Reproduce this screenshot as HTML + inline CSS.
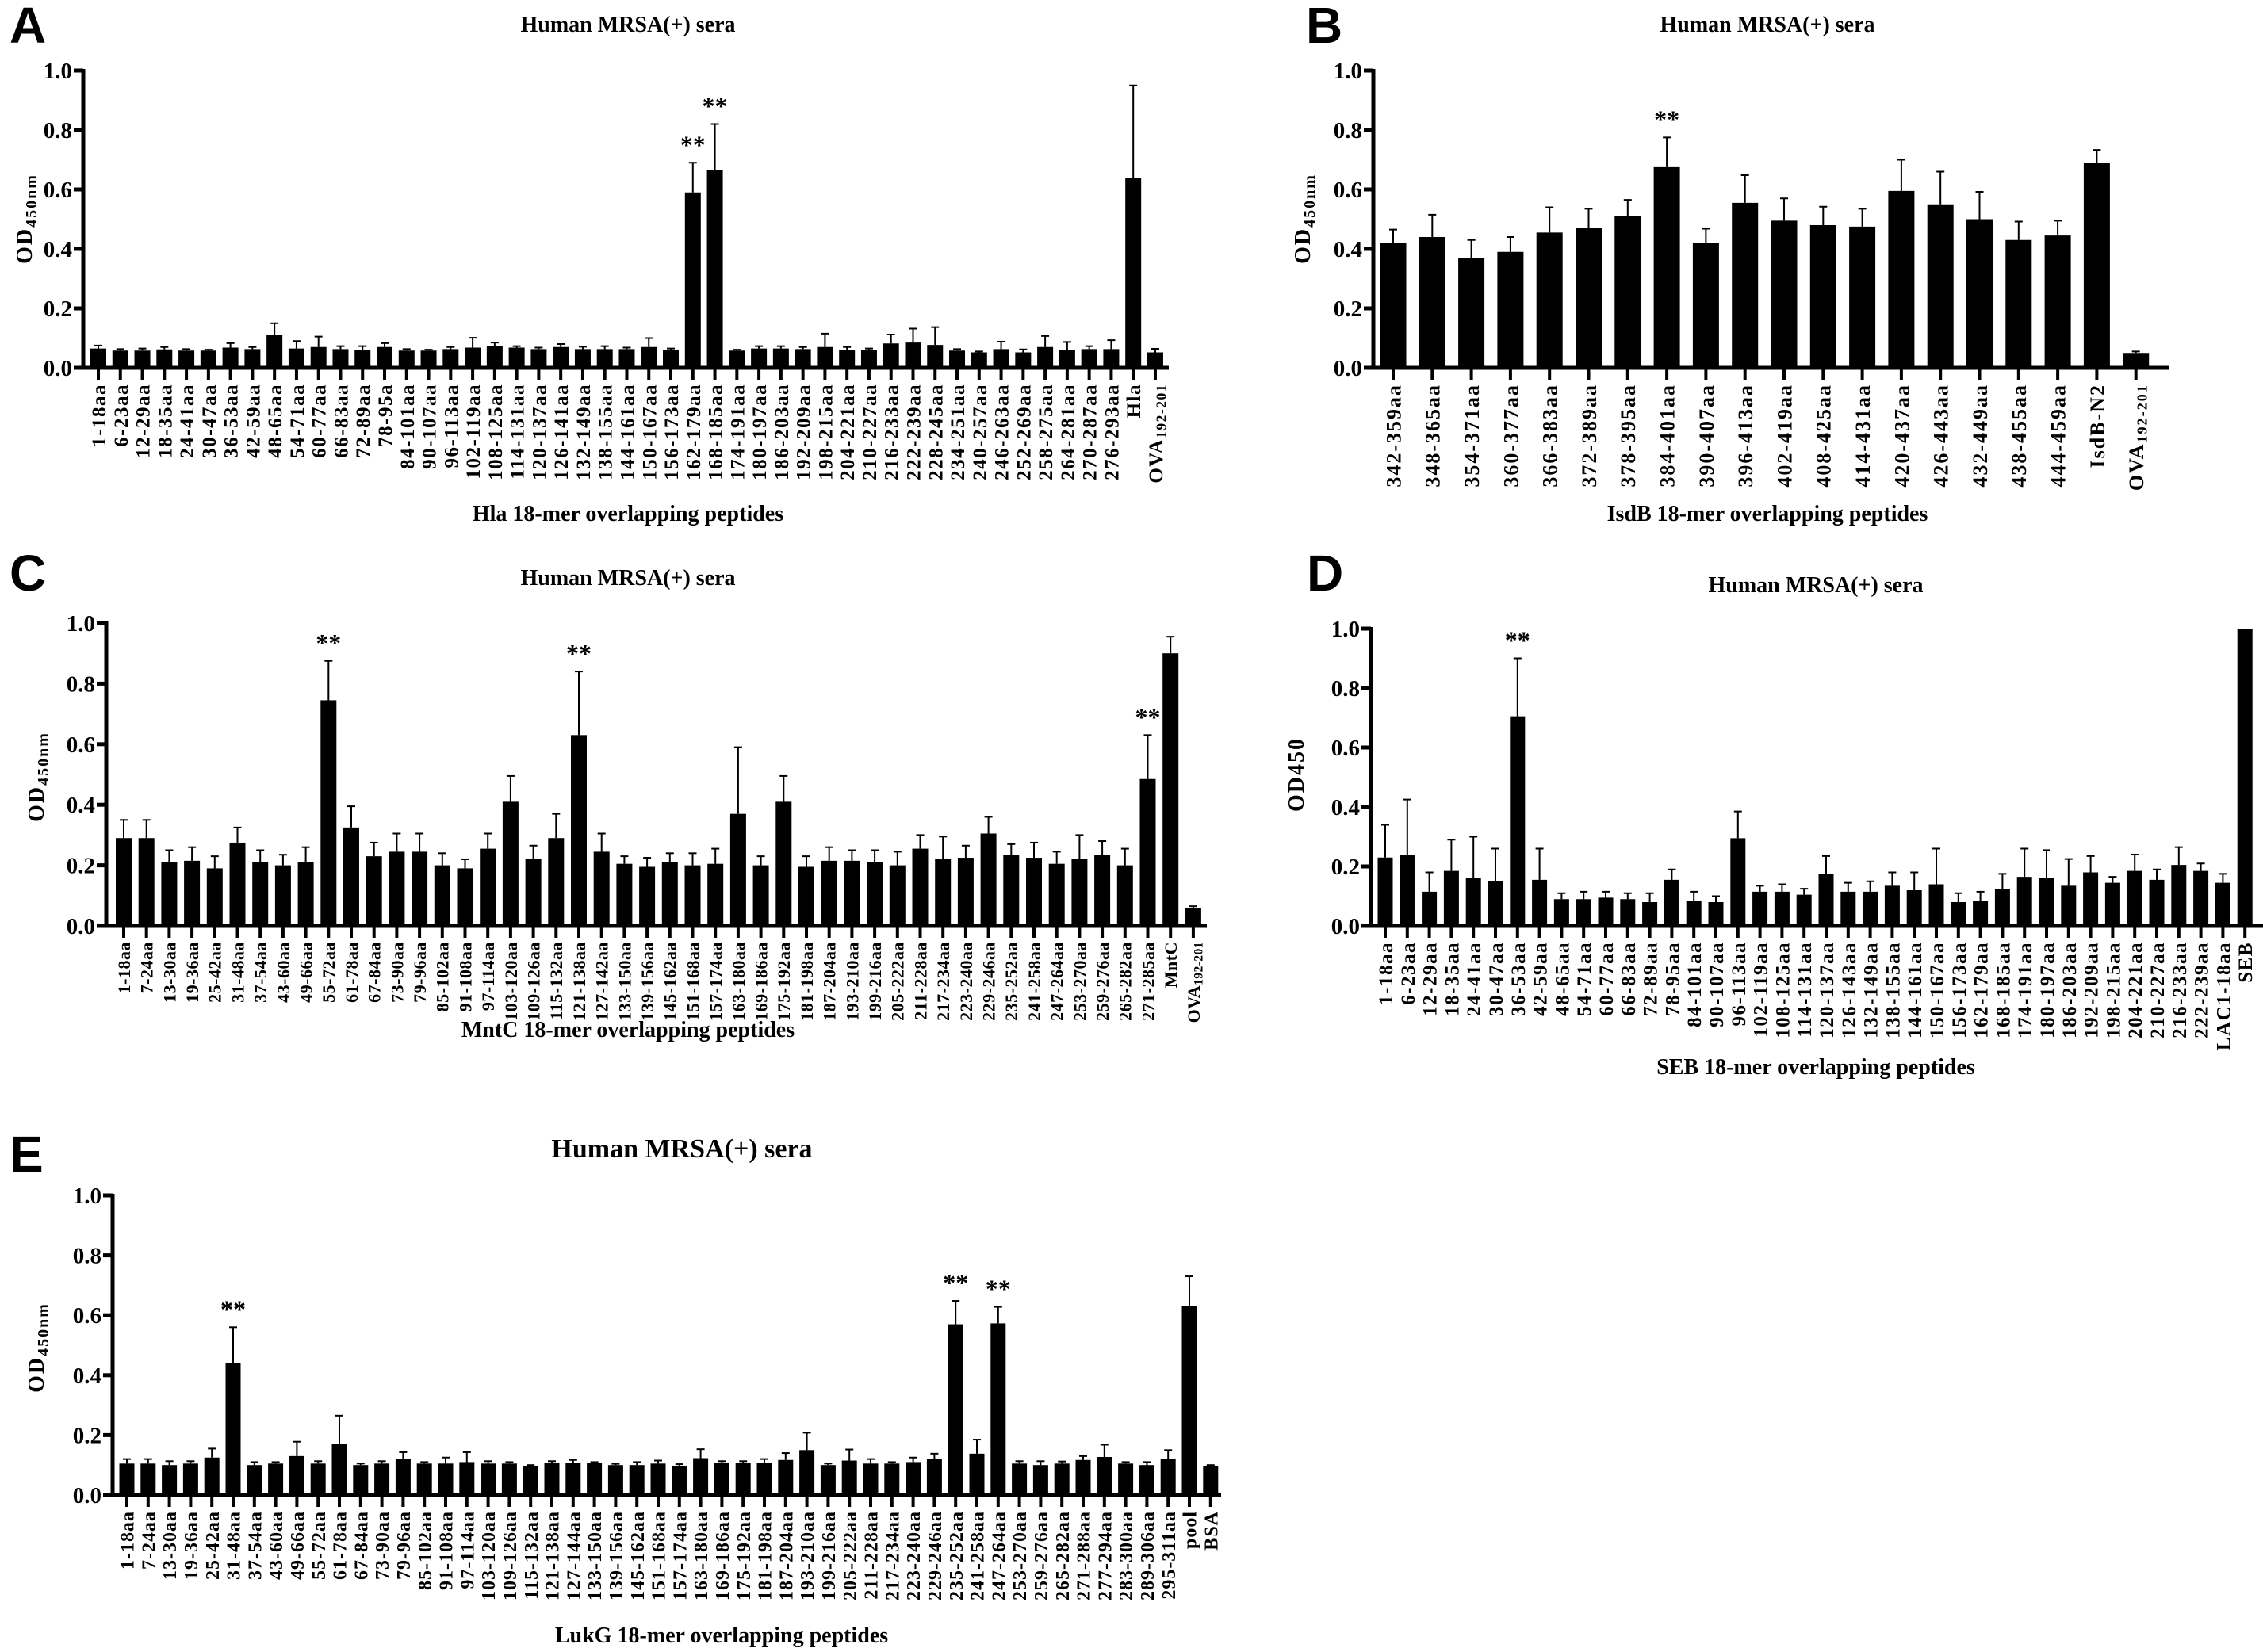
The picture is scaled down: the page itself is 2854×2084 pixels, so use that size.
<!DOCTYPE html>
<html><head><meta charset="utf-8">
<style>
html,body{margin:0;padding:0;background:#fff;}
svg{display:block;}
text{font-family:"Liberation Serif",serif;font-weight:bold;fill:#000;}
.let{font-family:"Liberation Sans",sans-serif;font-size:64px;}
</style></head>
<body>
<svg id="fig" width="2854" height="2084" viewBox="0 0 2854 2084" xmlns="http://www.w3.org/2000/svg">
</svg>
<script>
const catsA = ["1-18aa","6-23aa","12-29aa","18-35aa","24-41aa","30-47aa","36-53aa","42-59aa","48-65aa","54-71aa","60-77aa","66-83aa","72-89aa","78-95a","84-101aa","90-107aa","96-113aa","102-119aa","108-125aa","114-131aa","120-137aa","126-141aa","132-149aa","138-155aa","144-161aa","150-167aa","156-173aa","162-179aa","168-185aa","174-191aa","180-197aa","186-203aa","192-209aa","198-215aa","204-221aa","210-227aa","216-233aa","222-239aa","228-245aa","234-251aa","240-257aa","246-263aa","252-269aa","258-275aa","264-281aa","270-287aa","276-293aa","Hla","OVA"];
const valsA = [0.065,0.058,0.058,0.062,0.058,0.058,0.068,0.063,0.11,0.065,0.07,0.063,0.06,0.07,0.058,0.058,0.063,0.068,0.073,0.068,0.063,0.07,0.063,0.063,0.063,0.07,0.06,0.59,0.665,0.058,0.065,0.065,0.063,0.07,0.06,0.06,0.082,0.085,0.077,0.058,0.052,0.063,0.052,0.07,0.06,0.063,0.063,0.64,0.052];
const errsA = [0.01,0.005,0.007,0.008,0.005,0.003,0.015,0.007,0.04,0.025,0.035,0.01,0.013,0.013,0.005,0.003,0.007,0.033,0.012,0.005,0.005,0.01,0.008,0.01,0.005,0.03,0.005,0.1,0.155,0.003,0.008,0.008,0.007,0.045,0.01,0.005,0.03,0.047,0.06,0.005,0.003,0.025,0.01,0.037,0.027,0.01,0.03,0.31,0.012];
const starsA = [27,28];

const catsB = ["342-359aa","348-365aa","354-371aa","360-377aa","366-383aa","372-389aa","378-395aa","384-401aa","390-407aa","396-413aa","402-419aa","408-425aa","414-431aa","420-437aa","426-443aa","432-449aa","438-455aa","444-459aa","IsdB-N2","OVA"];
const valsB = [0.42,0.44,0.37,0.39,0.455,0.47,0.51,0.675,0.42,0.555,0.495,0.48,0.475,0.595,0.55,0.5,0.43,0.445,0.688,0.05];
const errsB = [0.045,0.075,0.06,0.05,0.085,0.065,0.055,0.1,0.048,0.093,0.075,0.062,0.06,0.105,0.11,0.092,0.062,0.05,0.045,0.005];
const starsB = [7];

const catsC = ["1-18aa","7-24aa","13-30aa","19-36aa","25-42aa","31-48aa","37-54aa","43-60aa","49-66aa","55-72aa","61-78aa","67-84aa","73-90aa","79-96aa","85-102aa","91-108aa","97-114aa","103-120aa","109-126aa","115-132aa","121-138aa","127-142aa","133-150aa","139-156aa","145-162aa","151-168aa","157-174aa","163-180aa","169-186aa","175-192aa","181-198aa","187-204aa","193-210aa","199-216aa","205-222aa","211-228aa","217-234aa","223-240aa","229-246aa","235-252aa","241-258aa","247-264aa","253-270aa","259-276aa","265-282aa","271-285aa","MntC","OVA"];
const valsC = [0.29,0.29,0.21,0.215,0.19,0.275,0.21,0.2,0.21,0.745,0.325,0.23,0.245,0.245,0.2,0.19,0.255,0.41,0.22,0.29,0.63,0.245,0.205,0.195,0.21,0.2,0.205,0.37,0.2,0.41,0.195,0.215,0.215,0.21,0.2,0.255,0.22,0.225,0.305,0.235,0.225,0.205,0.22,0.235,0.2,0.485,0.9,0.06];
const topsC = [0.35,0.35,0.25,0.26,0.23,0.325,0.25,0.235,0.26,0.875,0.395,0.275,0.305,0.305,0.24,0.22,0.305,0.495,0.265,0.37,0.84,0.305,0.23,0.225,0.24,0.24,0.255,0.59,0.23,0.495,0.23,0.26,0.25,0.25,0.245,0.3,0.295,0.265,0.36,0.27,0.275,0.245,0.3,0.28,0.255,0.63,0.955,0.065];
const starsC = [9,20,45];

const catsD = ["1-18aa","6-23aa","12-29aa","18-35aa","24-41aa","30-47aa","36-53aa","42-59aa","48-65aa","54-71aa","60-77aa","66-83aa","72-89aa","78-95aa","84-101aa","90-107aa","96-113aa","102-119aa","108-125aa","114-131aa","120-137aa","126-143aa","132-149aa","138-155aa","144-161aa","150-167aa","156-173aa","162-179aa","168-185aa","174-191aa","180-197aa","186-203aa","192-209aa","198-215aa","204-221aa","210-227aa","216-233aa","222-239aa","LAC1-18aa","SEB"];
const valsD = [0.23,0.24,0.115,0.185,0.16,0.15,0.705,0.155,0.09,0.09,0.095,0.09,0.08,0.155,0.085,0.08,0.295,0.115,0.115,0.105,0.175,0.115,0.115,0.135,0.12,0.14,0.08,0.085,0.125,0.165,0.16,0.135,0.18,0.145,0.185,0.155,0.205,0.185,0.145,1.0];
const topsD = [0.34,0.425,0.18,0.29,0.3,0.26,0.9,0.26,0.11,0.115,0.115,0.11,0.11,0.19,0.115,0.1,0.385,0.135,0.14,0.125,0.235,0.145,0.15,0.18,0.18,0.26,0.11,0.115,0.175,0.26,0.255,0.225,0.235,0.165,0.24,0.19,0.265,0.21,0.175,1.0];
const starsD = [6];

const catsE = ["1-18aa","7-24aa","13-30aa","19-36aa","25-42aa","31-48aa","37-54aa","43-60aa","49-66aa","55-72aa","61-78aa","67-84aa","73-90aa","79-96aa","85-102aa","91-108aa","97-114aa","103-120aa","109-126aa","115-132aa","121-138aa","127-144aa","133-150aa","139-156aa","145-162aa","151-168aa","157-174aa","163-180aa","169-186aa","175-192aa","181-198aa","187-204aa","193-210aa","199-216aa","205-222aa","211-228aa","217-234aa","223-240aa","229-246aa","235-252aa","241-258aa","247-264aa","253-270aa","259-276aa","265-282aa","271-288aa","277-294aa","283-300aa","289-306aa","295-311aa","pool","BSA"];
const valsE = [0.105,0.105,0.1,0.105,0.125,0.44,0.1,0.105,0.13,0.105,0.17,0.1,0.105,0.12,0.105,0.105,0.11,0.105,0.105,0.098,0.108,0.108,0.107,0.1,0.1,0.105,0.098,0.123,0.107,0.108,0.108,0.117,0.15,0.1,0.115,0.105,0.105,0.11,0.12,0.57,0.138,0.573,0.105,0.1,0.105,0.117,0.127,0.105,0.1,0.12,0.63,0.098];
const topsE = [0.12,0.12,0.113,0.113,0.155,0.56,0.11,0.11,0.178,0.113,0.265,0.105,0.113,0.143,0.11,0.125,0.143,0.113,0.11,0.1,0.113,0.117,0.11,0.104,0.11,0.115,0.103,0.153,0.113,0.113,0.12,0.14,0.208,0.105,0.152,0.12,0.11,0.125,0.138,0.648,0.185,0.628,0.113,0.113,0.112,0.13,0.168,0.11,0.11,0.15,0.73,0.1];
const starsE = [5,39,41];

const yTicks = ["0.0","0.2","0.4","0.6","0.8","1.0"];

const NS = "http://www.w3.org/2000/svg";
const fig = document.getElementById('fig');
function mk(tag, attrs, parent){
  const e = document.createElementNS(NS, tag);
  for (const k in attrs) e.setAttribute(k, attrs[k]);
  (parent||fig).appendChild(e);
  return e;
}

function panel(p){
  const g = mk('g', {});
  
  
  const yS = v => p.yBase - v * (p.yBase - p.yTop);
  const xS = i => p.x0 + i * p.step;
  const L = mk('text', {x:p.letX, y:p.letY, class:'let'}, g);
  L.textContent = p.letter;
  
  
  const T = mk('text', {x:p.titleX, y:p.titleY, 'text-anchor':'middle', 'font-size':p.titleSize||28}, g);
  T.textContent = 'Human MRSA(+) sera';
  
  
  const ls = p.labSize||26;
  for (let i = 0; i < p.vals.length; i++){
    const v = p.vals[i], top = p.tops[i];
    const cx = xS(i);
    if (top > v){
      const el = mk('line', {x1:cx, x2:cx, y1:yS(v), y2:yS(top), stroke:'#000', 'stroke-width':2}, g);
      
      
      const cap = mk('line', {x1:cx-5, x2:cx+5, y1:yS(top), y2:yS(top), stroke:'#000', 'stroke-width':2}, g);
      
      
    }
    const r = mk('rect', {x:cx - p.bw/2, y:yS(v), width:p.bw, height:yS(0)-yS(v), fill:'#000'}, g);
    
    
    const tk = mk('line', {x1:cx, x2:cx, y1:p.yBase, y2:p.yBase+15, stroke:'#000', 'stroke-width':4}, g);
    
    
    const lx = cx, ly = p.yBase + 20;
    const t = mk('text', {x:lx, y:ly, 'text-anchor':'end', dy:'0.36em', 'font-size':ls, 'letter-spacing':(p.ls!==undefined?p.ls:2), transform:'rotate(-90 '+lx+' '+ly+')'}, g);
    const name = p.cats[i];
    if (name === 'OVA'){
      const s1 = mk('tspan', {}, t); s1.textContent = 'OVA';
      const s2 = mk('tspan', {'font-size':ls*0.7, dy:'0.25em'}, t); s2.textContent = '192-201';
    } else t.textContent = name;
    
    
  }
  for (const si of p.stars){
    const s = mk('text', {x:xS(si), y:yS(p.tops[si]) - 12, 'text-anchor':'middle', 'font-size':32}, g);
    s.textContent = '**';
    
    
  }
  const ya = mk('line', {x1:p.axisX, x2:p.axisX, y1:p.yTop-2, y2:p.yBase+2, stroke:'#000', 'stroke-width':5}, g);
  
  
  const xa = mk('line', {x1:p.axisX-2, x2:p.axisEnd, y1:p.yBase, y2:p.yBase, stroke:'#000', 'stroke-width':5}, g);
  
  
  for (let k = 0; k < yTicks.length; k++){
    const v = parseFloat(yTicks[k]);
    const yy = yS(v);
    const tl = mk('line', {x1:p.axisX-12, x2:p.axisX, y1:yy, y2:yy, stroke:'#000', 'stroke-width':5}, g);
    
    
    const tx = mk('text', {x:p.axisX-14, y:yy+10, 'text-anchor':'end', 'font-size':29}, g);
    tx.textContent = yTicks[k];
    
    
  }
  const yt = mk('text', {x:p.ytX, y:p.ytY, 'text-anchor':'middle', 'font-size':28, 'letter-spacing':2, transform:'rotate(-90 '+p.ytX+' '+p.ytY+')'}, g);
  if (p.ytPlain){ yt.textContent = 'OD450'; }
  else {
    const a = mk('tspan', {}, yt); a.textContent = 'OD';
    const b = mk('tspan', {'font-size':20, dy:'0.3em'}, yt); b.textContent = '450nm';
  }
  
  
  const xt = mk('text', {x:p.xtX, y:p.xtY, 'text-anchor':'middle', 'font-size':p.xtSize||28}, g);
  xt.textContent = p.xTitle;
  
  
}

panel({id:'hla', letter:'A', letX:12, letY:54, titleX:792, titleY:40,
  cats:catsA, vals:valsA, tops:valsA.map((v,i)=>v+errsA[i]), stars:starsA,
  x0:124, step:27.77, axisX:105, axisEnd:1474, yTop:89, yBase:464, bw:20, labSize:25, ls:1.5,
  ytX:40, ytY:276, xtX:792, xtY:657, xTitle:'Hla 18-mer overlapping peptides'});
panel({id:'isdb', letter:'B', letX:1647, letY:54, titleX:2229, titleY:40,
  cats:catsB, vals:valsB, tops:valsB.map((v,i)=>v+errsB[i]), stars:starsB,
  x0:1757, step:49.3, axisX:1732, axisEnd:2735, yTop:89, yBase:464, bw:33, labSize:26, ls:2,
  ytX:1652, ytY:276, xtX:2229, xtY:657, xTitle:'IsdB 18-mer overlapping peptides'});
panel({id:'mntc', letter:'C', letX:12, letY:745, titleX:792, titleY:738,
  cats:catsC, vals:valsC, tops:topsC, stars:starsC,
  x0:156, step:28.7, axisX:134, axisEnd:1522, yTop:786, yBase:1168, bw:20, labSize:22, ls:0.5,
  ytX:55, ytY:980, xtX:792, xtY:1308, xTitle:'MntC 18-mer overlapping peptides'});
panel({id:'seb', letter:'D', letX:1648, letY:745, titleX:2290, titleY:747,
  cats:catsD, vals:valsD, tops:topsD, stars:starsD,
  x0:1747, step:27.8, axisX:1729, axisEnd:2854, yTop:793, yBase:1168, bw:19, labSize:25, ls:1.5,
  ytX:1644, ytY:977, ytPlain:true, xtX:2290, xtY:1355, xTitle:'SEB 18-mer overlapping peptides'});
panel({id:'lukg', letter:'E', letX:12, letY:1478, titleX:860, titleY:1460, titleSize:34,
  cats:catsE, vals:valsE, tops:topsE, stars:starsE,
  x0:160, step:26.8, axisX:142, axisEnd:1540, yTop:1508, yBase:1886, bw:19, labSize:24, ls:1,
  ytX:55, ytY:1700, xtX:910, xtY:2072, xTitle:'LukG 18-mer overlapping peptides'});
</script>
</body></html>
